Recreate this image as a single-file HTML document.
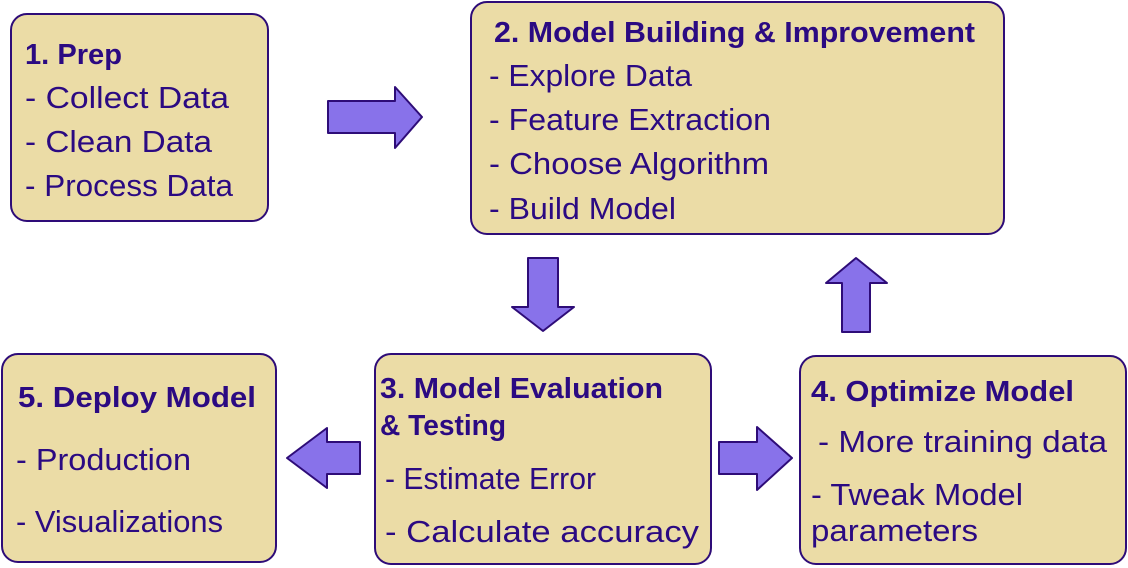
<!DOCTYPE html>
<html><head><meta charset="utf-8"><style>html,body{margin:0;padding:0;background:#fff}svg{display:block}</style></head>
<body>
<svg width="1128" height="568" viewBox="0 0 1128 568" xmlns="http://www.w3.org/2000/svg" font-family="'Liberation Sans', 'DejaVu Sans', sans-serif" fill="#2b0a82">
<g fill="#ebdca6" stroke="#2e0c78" stroke-width="2">
<rect x="11" y="14" width="257" height="207" rx="16"/>
<rect x="471" y="2" width="533" height="232" rx="16"/>
<rect x="375" y="354" width="336" height="210" rx="16"/>
<rect x="800" y="356" width="326" height="208" rx="16"/>
<rect x="2" y="354" width="274" height="208" rx="16"/>
</g>
<g fill="#8872ea" stroke="#2e0c78" stroke-width="2" stroke-linejoin="round">
<polygon points="328,101 395,101 395,87 422,117 395,148 395,133 328,133"/>
<polygon points="528,258 558,258 558,307 574,307 543,331 512,307 528,307"/>
<polygon points="842,332 870,332 870,283 887,283 856,258 826,283 842,283"/>
<polygon points="360,442 327,442 327,428 287,458 327,488 327,474 360,474"/>
<polygon points="719,442 757,442 757,427 792,458 757,490 757,474 719,474"/>
</g>
<g font-size="31">
<text x="25" y="64" font-weight="bold" font-size="29" textLength="97" lengthAdjust="spacingAndGlyphs">1. Prep</text>
<text x="25" y="108" textLength="204" lengthAdjust="spacingAndGlyphs">- Collect Data</text>
<text x="25" y="152" textLength="187" lengthAdjust="spacingAndGlyphs">- Clean Data</text>
<text x="25" y="196" textLength="208" lengthAdjust="spacingAndGlyphs">- Process Data</text>
<text x="494" y="42" font-weight="bold" font-size="29" textLength="481" lengthAdjust="spacingAndGlyphs">2. Model Building &amp; Improvement</text>
<text x="489" y="86" textLength="203" lengthAdjust="spacingAndGlyphs">- Explore Data</text>
<text x="489" y="130" textLength="282" lengthAdjust="spacingAndGlyphs">- Feature Extraction</text>
<text x="489" y="174" textLength="280" lengthAdjust="spacingAndGlyphs">- Choose Algorithm</text>
<text x="489" y="219" textLength="187" lengthAdjust="spacingAndGlyphs">- Build Model</text>
<text x="380" y="398" font-weight="bold" font-size="29" textLength="283" lengthAdjust="spacingAndGlyphs">3. Model Evaluation</text>
<text x="380" y="435" font-weight="bold" font-size="29" textLength="126" lengthAdjust="spacingAndGlyphs">&amp; Testing</text>
<text x="385" y="489" textLength="211" lengthAdjust="spacingAndGlyphs">- Estimate Error</text>
<text x="385" y="542" textLength="314" lengthAdjust="spacingAndGlyphs">- Calculate accuracy</text>
<text x="811" y="401" font-weight="bold" font-size="29" textLength="263" lengthAdjust="spacingAndGlyphs">4. Optimize Model</text>
<text x="818" y="452" textLength="289" lengthAdjust="spacingAndGlyphs">- More training data</text>
<text x="811" y="505" textLength="212" lengthAdjust="spacingAndGlyphs">- Tweak Model</text>
<text x="811" y="541" textLength="167" lengthAdjust="spacingAndGlyphs">parameters</text>
<text x="18" y="407" font-weight="bold" font-size="29" textLength="238" lengthAdjust="spacingAndGlyphs">5. Deploy Model</text>
<text x="16" y="470" textLength="175" lengthAdjust="spacingAndGlyphs">- Production</text>
<text x="16" y="532" textLength="207" lengthAdjust="spacingAndGlyphs">- Visualizations</text>
</g>
</svg>
</body></html>
